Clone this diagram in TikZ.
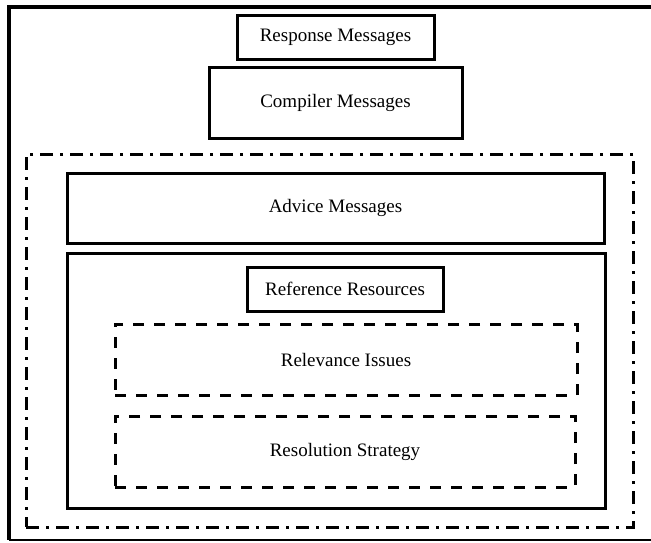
\documentclass[tikz,border=0pt]{standalone}
\usepackage{fontspec}
\setmainfont{Liberation Serif}
\usetikzlibrary{shapes,arrows,calc}
\tikzstyle{msg}=[rectangle,
                 draw=black,
                 line width=3pt,
                 inner sep=0pt,
                 text centered,
                 font=\fontsize{19}{23}\selectfont]
\tikzstyle{issue}=[msg,
                   dash pattern=on 11pt off 10pt]
\tikzstyle{scopebox}=[rectangle,
                      draw=black,
                      line width=3pt,
                      inner sep=0pt,
                      dash pattern=on 13pt off 7pt on 3pt off 7pt]

\begin{document}
\begin{tikzpicture}[x=1pt,y=-1pt]
    \useasboundingbox (0,0) rectangle (651,542);
    \draw[line width=4pt] (651,7) -- (9,7) -- (9,540);
    \draw[line width=1.5pt] (9,540) -- (651,540);
    \node[msg, minimum width=197pt, minimum height=44pt] (response) at (335.5,37) {Response Messages};
    \node[msg, minimum width=253pt, minimum height=71pt] (compiler) at (335.5,102.5) {Compiler Messages};
    \node[scopebox, minimum width=607pt, minimum height=373pt] (scope) at (329.5,340.5) {};
    \node[msg, minimum width=537pt, minimum height=70pt] (advice) at (335.5,208) {Advice Messages};
    \node[msg, minimum width=538pt, minimum height=255pt] (refbox) at (336,380.5) {};
    \node[msg, minimum width=196pt, minimum height=44pt] (reference) at (345,289) {Reference Resources};
    \node[issue, minimum width=462pt, minimum height=71pt] (relevance) at (346,359.5) {Relevance Issues};
    \node[issue, minimum width=460pt, minimum height=71pt] (resolution) at (345,451.5) {Resolution Strategy};
\end{tikzpicture}
\end{document}
